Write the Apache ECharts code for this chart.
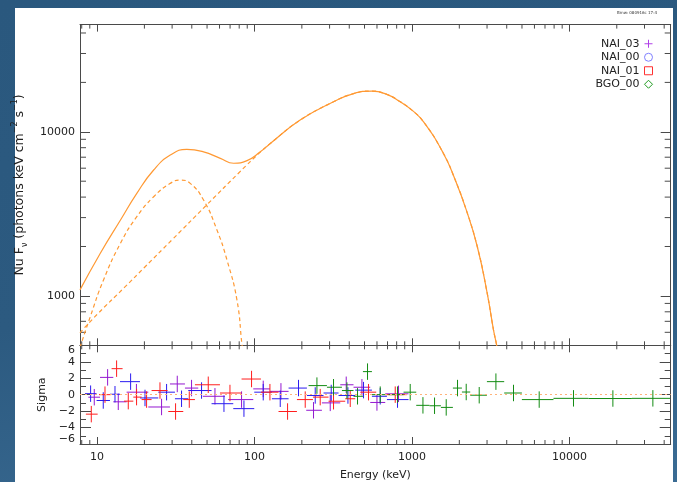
<!DOCTYPE html>
<html>
<head>
<meta charset="utf-8">
<script src="https://cdn.jsdelivr.net/npm/echarts@6/dist/echarts.min.js"></script>
<style>
  html, body { margin: 0; padding: 0; width: 677px; height: 482px; overflow: hidden;
    background: linear-gradient(170deg, #2a587e 0%, #2c5a80 55%, #3a6b93 100%); }
  #sheet { position: absolute; left: 15px; top: 8px; width: 658px; height: 474px; background: #fff; }
  #chart { position: absolute; left: 0; top: 0; width: 677px; height: 482px; }
</style>
</head>
<body>
<div id="sheet"></div>
<div id="chart"></div>
<script>
// ---- axis ranges and ticks ----
const energyRange = [7.8, 44000];
const fluxRange = [500, 45000];
const sigmaRange = [-6, 6];
const energyTickLabels = [10, 100, 1000, 10000];
const fluxTickLabels = [1000, 10000];
const energyMinorTicks = [8, 9, 20, 30, 40, 50, 60, 70, 80, 90,
  200, 300, 400, 500, 600, 700, 800, 900,
  2000, 3000, 4000, 5000, 6000, 7000, 8000, 9000, 20000, 30000, 40000];
const fluxMinorTicks = [600, 700, 800, 900, 2000, 3000, 4000, 5000, 6000, 7000, 8000, 9000,
  20000, 30000, 40000];

// ---- model curves: [energy keV, Nu F_nu] ----
const totalModel = [[7.8, 1088], [10.5, 1820], [14.1, 2900], [17.9, 4217], [22.9, 5850],
  [29.2, 7210], [37.2, 7815], [47.5, 7550], [60.7, 6890], [73.8, 6430], [89.7, 6670],
  [109, 7550], [126, 8490], [195, 11790], [318, 15240], [426, 17100], [557, 17700],
  [693, 16900], [843, 15240], [1000, 13550], [1186, 11500], [1586, 7380], [1885, 5080],
  [2200, 3400], [2600, 2000], [3000, 1050], [3296, 621], [3467, 490], [3600, 380]];
const thermalModel = [[7.8, 485], [9.07, 748], [11.0, 1251], [14.1, 2094], [17.9, 3040],
  [22.9, 4020], [29.2, 4850], [33.8, 5080], [39.1, 4850], [47.5, 3840], [57.8, 2520],
  [66.9, 1656], [77.4, 945], [83.4, 501], [86, 400]];
const cutoffPlModel = [[7.8, 596], [10, 770], [15, 1130], [20, 1490], [30, 2200], [50, 3600],
  [80, 5650], [110, 7590], [126, 8490], [195, 11790], [318, 15240], [426, 17100], [557, 17700],
  [693, 16900], [843, 15240], [1000, 13550], [1186, 11500], [1586, 7380], [1885, 5080],
  [2200, 3400], [2600, 2000], [3000, 1050], [3296, 621], [3467, 490], [3600, 380]];

// ---- residuals: [energy, bin low, bin high, sigma] ----
const nai03Resid = [[9.61, 8.81, 10.45, -0.31], [11.68, 10.45, 12.69, 2.1], [13.65, 12.69, 15.42, -0.87],
  [17.8, 15.42, 21.17, 0.3], [25.71, 21.17, 29.07, -1.5], [32.34, 29.07, 36.2, 1.3],
  [39.86, 36.2, 43.97, 0.8], [56.13, 47.0, 64.97, -0.2], [82.81, 68.0, 98.27, -0.6],
  [113.7, 98.27, 125.4, 0.7], [147.3, 125.4, 164.7, 0.4], [237.2, 213.2, 268.2, -1.9],
  [302.9, 268.2, 350.6, -1.0], [382.7, 350.6, 425.8, 1.2], [481.4, 425.8, 543.5, 0.9],
  [599.6, 543.5, 676.9, -0.95], [822.1, 676.9, 951.7, 0.1]];
const nai00Resid = [[9.11, 8.39, 9.94, 0.12], [10.96, 9.94, 12.09, -0.71], [13.01, 12.09, 14.0, 0.05],
  [16.35, 14.0, 18.75, 1.58], [20.18, 18.75, 24.5, -0.4], [27.67, 24.5, 31.27, 0.3],
  [34.44, 31.27, 37.99, -0.5], [46.14, 37.99, 53.4, 0.5], [64.02, 53.4, 73.36, -1.1],
  [85.76, 73.36, 99.7, -1.7], [113.7, 99.7, 129.1, 0.3], [145.8, 129.1, 164.7, -0.5],
  [190.5, 164.7, 215.4, 0.8], [243.2, 215.4, 274.6, -0.1], [307.3, 274.6, 342.0, 0.2],
  [392.3, 342.0, 436.5, -0.1], [492.8, 436.5, 557.2, 0.55], [629.2, 557.2, 693.9, -0.2],
  [810.2, 693.9, 951.7, -0.6]];
const nai01Resid = [[9.2, 8.5, 10.1, -2.37], [11.24, 10.3, 12.27, 0.0], [13.32, 12.38, 14.54, 3.16],
  [15.8, 14.84, 17.01, -0.79], [17.84, 17.01, 19.2, -0.3], [20.65, 19.2, 22.22, -0.6],
  [25.12, 22.22, 28.08, 0.5], [31.55, 28.36, 35.31, -2.05], [38.55, 35.31, 41.89, -0.6],
  [50.89, 41.89, 60.39, 1.2], [69.9, 60.39, 82.81, 0.2], [95.85, 82.81, 110.0, 1.9],
  [125.4, 110.0, 142.2, 0.3], [162.3, 142.2, 186.1, -2.05], [210.1, 186.1, 235.2, -0.6],
  [261.6, 235.2, 295.4, -0.3], [317.8, 295.4, 377.1, -0.8], [405.8, 377.1, 436.5, -0.5],
  [530.2, 469.6, 593.4, 0.3], [783.4, 676.9, 929.8, 0.0]];
const bgo00Resid = [[249.3, 220.5, 288.6, 1.1], [317.8, 288.6, 359.4, 0.9], [386.6, 359.4, 425.8, 0.5],
  [451.4, 425.8, 488.5, -0.2], [522.5, 488.5, 557.2, 2.8], [629.2, 557.2, 693.9, 0.0],
  [810.2, 710, 884.6, 0.0], [975.4, 884.6, 1065, 0.3], [1175, 1065, 1293, -1.3],
  [1392, 1293, 1528, -1.35], [1651, 1528, 1821, -1.55], [1948, 1821, 2078, 0.8],
  [2212, 2078, 2346, 0.32], [2675, 2346, 2994, -0.07], [3415, 2994, 3855, 1.58],
  [4417, 3855, 4993, 0.2], [6431, 4993, 7925, -0.6], [10620, 7925, 13220, -0.45],
  [18890, 13220, 24940, -0.47], [33900, 24940, 43650, -0.45]];

// ---- styling ----
const FONT = 'DejaVu Sans';
const TEXT = '#222';
const AXIS = '#4a4a4a';
const ORANGE = '#ff9933';
const detectors = [
  { name: 'NAI_03', data: nai03Resid, color: '#9418d0', legendColor: '#b040e8', icon: 'path://M5,0L5,10M0,5L10,5' },
  { name: 'NAI_00', data: nai00Resid, color: '#2b1bf0', legendColor: '#7f7fff', icon: 'circle' },
  { name: 'NAI_01', data: nai01Resid, color: '#ff1e1e', legendColor: '#ff3030', icon: 'rect' },
  { name: 'BGO_00', data: bgo00Resid, color: '#138c13', legendColor: '#1f9a1f', icon: 'diamond' }
];

const near = (v, list) => list.some(t => Math.abs(v - t) / t < 1e-6);
const labelFont = { fontFamily: FONT, fontSize: 11, color: TEXT };

function logAxis(gridIndex, range, position, opts) {
  return Object.assign({
    type: 'log', logBase: 10, gridIndex, position, min: range[0], max: range[1],
    axisLine: { show: true, onZero: false, lineStyle: { color: AXIS, width: 1 } },
    axisTick: { show: true, inside: true, length: 7, lineStyle: { color: AXIS } },
    axisLabel: { show: false },
    splitLine: { show: false }
  }, opts || {});
}

function sigmaAxis(position, showLabels) {
  return {
    type: 'value', gridIndex: 1, position, min: sigmaRange[0], max: sigmaRange[1], interval: 2,
    axisLine: { show: true, onZero: false, lineStyle: { color: AXIS, width: 1 } },
    axisTick: { show: true, inside: true, length: 11, lineStyle: { color: AXIS } },
    minorTick: { show: true, splitNumber: 2, length: 6, lineStyle: { color: AXIS } },
    splitLine: { show: false },
    axisLabel: showLabels ? Object.assign({}, labelFont, {
      margin: 5,
      formatter: v => {
        const s = (v < 0 ? '\u2212' : '') + Math.abs(v);
        if (v === sigmaRange[1]) return '{hi|' + s + '}';
        if (v === sigmaRange[0]) return '{lo|' + s + '}';
        return s;
      },
      rich: {
        hi: { fontFamily: FONT, fontSize: 11, color: TEXT, padding: [10, 0, 0, 0] },
        lo: { fontFamily: FONT, fontSize: 11, color: TEXT, padding: [0, 0, 10, 0] }
      }
    }) : { show: false },
    name: showLabels ? 'Sigma' : '',
    nameLocation: 'middle', nameGap: 28, nameRotate: 90,
    nameTextStyle: labelFont
  };
}

// minor ticks along the top and bottom edges of a grid
function xMinorTicks(len) {
  return (params, api) => {
    const x = api.coord([api.value(0), api.value(1)])[0];
    const r = params.coordSys;
    const st = { stroke: AXIS, lineWidth: 1 };
    return { type: 'group', children: [
      { type: 'line', shape: { x1: x, y1: r.y, x2: x, y2: r.y + len }, style: st },
      { type: 'line', shape: { x1: x, y1: r.y + r.height, x2: x, y2: r.y + r.height - len }, style: st }
    ] };
  };
}
// minor ticks along the left and right edges of a grid
function yMinorTicks(len) {
  return (params, api) => {
    const y = api.coord([api.value(0), api.value(1)])[1];
    const r = params.coordSys;
    const st = { stroke: AXIS, lineWidth: 1 };
    return { type: 'group', children: [
      { type: 'line', shape: { x1: r.x, y1: y, x2: r.x + len, y2: y }, style: st },
      { type: 'line', shape: { x1: r.x + r.width, y1: y, x2: r.x + r.width - len, y2: y }, style: st }
    ] };
  };
}
// residual point: horizontal bar = energy bin, vertical bar = +/- 1 sigma
function crossItem(color) {
  return (params, api) => {
    const e = api.value(0), lo = api.value(1), hi = api.value(2), s = api.value(3);
    const c = api.coord([e, s]);
    const l = api.coord([lo, s]);
    const h = api.coord([hi, s]);
    const t = api.coord([e, s + 1]);
    const b = api.coord([e, s - 1]);
    const st = { stroke: color, lineWidth: 1 };
    return { type: 'group', children: [
      { type: 'line', shape: { x1: l[0], y1: c[1], x2: h[0], y2: c[1] }, style: st },
      { type: 'line', shape: { x1: c[0], y1: t[1], x2: c[0], y2: b[1] }, style: st }
    ] };
  };
}

const modelLine = (name, data, dashed) => ({
  type: 'line', name, xAxisIndex: 0, yAxisIndex: 0, data, smooth: 0.5,
  showSymbol: false, silent: true, clip: true, z: 3,
  lineStyle: { color: ORANGE, width: 1.2, type: dashed ? [4, 3] : 'solid' }
});

const series = [
  modelLine('total', totalModel, false),
  modelLine('thermal', thermalModel, true),
  modelLine('cutoffpl', cutoffPlModel, true),
  { type: 'custom', xAxisIndex: 0, yAxisIndex: 0, silent: true,
    data: energyMinorTicks.map(v => [v, fluxTickLabels[0]]), renderItem: xMinorTicks(4) },
  { type: 'custom', xAxisIndex: 0, yAxisIndex: 0, silent: true,
    data: fluxMinorTicks.map(v => [energyTickLabels[0], v]), renderItem: yMinorTicks(6) },
  { type: 'custom', xAxisIndex: 2, yAxisIndex: 2, silent: true,
    data: energyMinorTicks.map(v => [v, 0]), renderItem: xMinorTicks(4) },
  { type: 'line', xAxisIndex: 2, yAxisIndex: 2, data: [], silent: true,
    markLine: { symbol: 'none', silent: true, label: { show: false },
      lineStyle: { color: '#ffb37a', type: [2, 3], width: 1 }, data: [{ yAxis: 0 }] } }
];
detectors.forEach(d => {
  series.push({
    type: 'custom', name: d.name, xAxisIndex: 2, yAxisIndex: 2, data: d.data,
    encode: { x: [0, 1, 2], y: 3 }, itemStyle: { color: d.color },
    renderItem: crossItem(d.color), z: 4
  });
});

const chart = echarts.init(document.getElementById('chart'), null, { renderer: 'canvas' });
chart.setOption({
  animation: false,
  backgroundColor: 'transparent',
  grid: [
    { left: 80, right: 6.3, top: 24.6, height: 320.7 },
    { left: 80, right: 6.3, top: 345.3, height: 101.4 }
  ],
  xAxis: [
    logAxis(0, energyRange, 'bottom'),
    logAxis(0, energyRange, 'top'),
    logAxis(1, energyRange, 'bottom', {
      axisLabel: Object.assign({}, labelFont, { show: true, margin: 8,
        formatter: v => near(v, energyTickLabels) ? String(Math.round(v)) : '' }),
      name: 'Energy (keV)', nameLocation: 'middle', nameGap: 26, nameTextStyle: labelFont
    }),
    logAxis(1, energyRange, 'top')
  ],
  yAxis: [
    logAxis(0, fluxRange, 'left', {
      axisTick: { show: true, inside: true, length: 10, lineStyle: { color: AXIS } },
      axisLabel: Object.assign({}, labelFont, { show: true, margin: 5,
        formatter: v => near(v, fluxTickLabels) ? String(Math.round(v)) : '' }),
      name: '{m|Nu F}{sub|\u03bd}{m| (photons keV cm}{sup|\u22122}{m| s}{sup|\u22121}{m|)}',
      nameLocation: 'middle', nameGap: 45, nameRotate: 90,
      nameTextStyle: {
        fontFamily: FONT, fontSize: 12.5, color: TEXT,
        rich: {
          m: { fontFamily: FONT, fontSize: 12.5, color: TEXT, lineHeight: 18 },
          sub: { fontFamily: FONT, fontSize: 8, color: TEXT, lineHeight: 11, verticalAlign: 'bottom' },
          sup: { fontFamily: FONT, fontSize: 8, color: TEXT, lineHeight: 13, verticalAlign: 'top' }
        }
      }
    }),
    logAxis(0, fluxRange, 'right', {
      axisTick: { show: true, inside: true, length: 10, lineStyle: { color: AXIS } }
    }),
    sigmaAxis('left', true),
    sigmaAxis('right', false)
  ],
  legend: {
    orient: 'vertical', right: 19, top: 32, align: 'right',
    itemWidth: 8, itemHeight: 8, itemGap: 0, selectedMode: false,
    textStyle: { fontFamily: FONT, fontSize: 11, color: TEXT, lineHeight: 13.5 },
    data: detectors.map(d => ({
      name: d.name, icon: d.icon,
      itemStyle: { color: 'rgba(0,0,0,0)', borderColor: d.legendColor, borderWidth: 1 }
    }))
  },
  graphic: [
    { type: 'text', left: 617, top: 11, silent: true,
      style: { text: 'Bmw: 080916c 17:4', fontFamily: FONT, fontSize: 4, fill: '#333' } }
  ],
  series
});
</script>
</body>
</html>
